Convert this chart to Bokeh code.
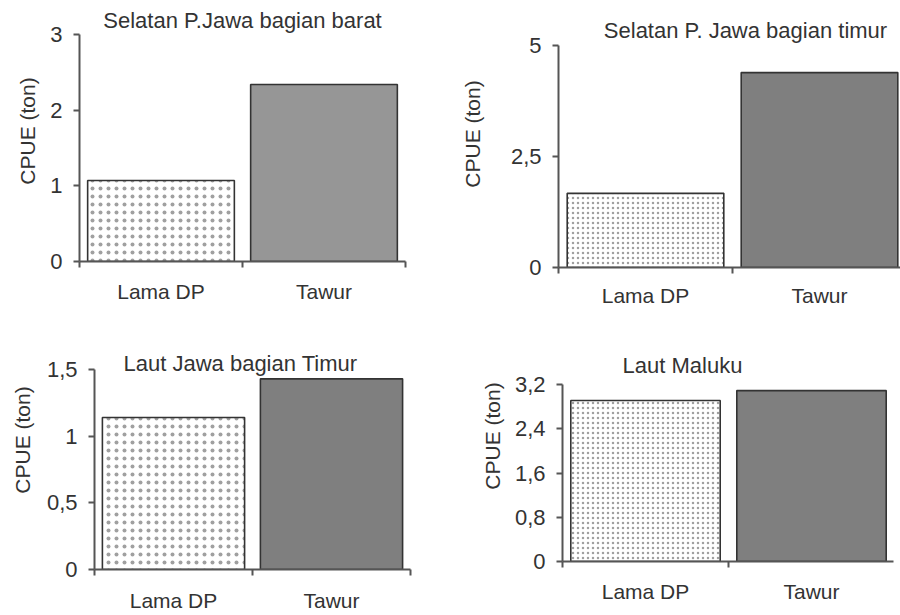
from bokeh.plotting import figure
from bokeh.layouts import column, row
from bokeh.models import Range1d, FixedTicker, CustomJSTickFormatter, Label
from bokeh.embed import file_html
from bokeh.resources import INLINE

# ---------------- data ----------------
categories = ["Lama DP", "Tawur"]
titles = ["Selatan P.Jawa bagian barat", "Selatan P. Jawa bagian timur",
          "Laut Jawa bagian Timur", "Laut Maluku"]
values_barat = [1.07, 2.34]
values_timur = [1.67, 4.39]
values_jawa_timur = [1.14, 1.43]
values_maluku = [2.91, 3.09]
yticks_barat = [0, 1, 2, 3]
yticks_timur = [0, 2.5, 5]
yticks_jawa_timur = [0, 0.5, 1, 1.5]
yticks_maluku = [0, 0.8, 1.6, 2.4, 3.2]
y_label = "CPUE (ton)"

FONT = "Liberation Sans"
TXT = "#333333"
AX = "#555555"


def panel(values, yticks, title, lay):
    """lay: page-pixel layout of the panel (positions only, no data)."""
    col_left, row_top, W, H = lay["box"]
    ax_x, ax_top, ax_bot, right, cat_px = lay["frame"]
    ymax = yticks[-1]
    frame_right = min(right, col_left + W)
    x_end = (frame_right - ax_x) / cat_px
    y_end = ymax * (ax_bot - row_top) / (ax_bot - ax_top)

    p = figure(width=W, height=H, title=None, toolbar_location=None,
               output_backend="svg",
               x_range=Range1d(0, x_end), y_range=Range1d(0, y_end),
               min_border_left=ax_x - col_left,
               min_border_right=col_left + W - frame_right,
               min_border_top=0, min_border_bottom=row_top + H - ax_bot)
    p.outline_line_color = None
    p.xgrid.visible = False
    p.ygrid.visible = False
    p.background_fill_color = "white"
    p.border_fill_color = "white"

    xs = [i + 0.5 for i in range(len(categories))]
    # Lama DP (dotted)
    p.vbar(x=xs[:1], top=values[:1], width=0.9, bottom=0,
           fill_color="white", line_color="#333333", line_width=1.6,
           hatch_pattern="dot", hatch_scale=lay["hatch"][0], hatch_weight=1.4,
           hatch_color=lay["hatch"][1])
    # Tawur (solid gray)
    p.vbar(x=xs[1:], top=values[1:], width=0.9, bottom=0,
           fill_color=lay["tawur"], line_color="#333333", line_width=1.6)

    # y axis (drawn only from 0 to the top tick)
    ya = p.yaxis[0]
    ya.bounds = (0, ymax)
    ya.ticker = FixedTicker(ticks=yticks, minor_ticks=[])
    ya.formatter = CustomJSTickFormatter(code="return tick.toString().replace('.', ',');")
    ya.axis_line_color = AX
    ya.axis_line_width = 2
    ya.major_tick_line_color = AX
    ya.major_tick_line_width = 2
    ya.major_tick_out = 6
    ya.major_tick_in = 0
    ya.minor_tick_line_color = None
    ya.major_label_standoff = 11
    ya.major_label_text_font = FONT
    ya.major_label_text_font_size = "22px"
    ya.major_label_text_color = TXT
    ya.axis_label = y_label
    ya.axis_label_text_font = FONT
    ya.axis_label_text_font_size = "21px"
    ya.axis_label_text_font_style = "normal"
    ya.axis_label_text_color = TXT
    ya.axis_label_standoff = lay["ylab"]

    # x axis: ticks between categories, labels at centres
    xa = p.xaxis[0]
    xa.ticker = FixedTicker(ticks=xs, minor_ticks=list(range(len(categories) + 1)))
    xa.formatter = CustomJSTickFormatter(args=dict(cats=categories),
                                         code="return cats[Math.floor(tick)];")
    xa.axis_label = None
    xa.axis_line_color = AX
    xa.axis_line_width = 2
    xa.major_tick_line_color = None
    xa.minor_tick_line_color = AX
    xa.minor_tick_line_width = 2
    xa.minor_tick_out = 6
    xa.minor_tick_in = 0
    xa.major_label_standoff = lay["xlab"]
    xa.major_label_text_font = FONT
    xa.major_label_text_font_size = "21px"
    xa.major_label_text_color = TXT

    tx, ty = lay["title"]
    p.add_layout(Label(x=(tx - ax_x) / cat_px,
                       y=ymax * (ax_bot - ty) / (ax_bot - ax_top),
                       text=title, text_font=FONT, text_font_size="22px",
                       text_color=TXT, text_align="center", text_baseline="middle"))
    return p


lay1 = dict(box=(0, 0, 450, 310), frame=(79, 34, 261, 405, 163),
            hatch=(8, "#a0a0a0"), tawur="#969696", ylab=8, xlab=12, title=(242, 20))
lay2 = dict(box=(450, 0, 450, 310), frame=(558, 45, 267, 906, 174),
            hatch=(5, "#a0a0a0"), tawur="#7f7f7f", ylab=24, xlab=10, title=(745, 30))
lay3 = dict(box=(0, 310, 450, 305), frame=(94, 369, 569, 410, 158),
            hatch=(8, "#a0a0a0"), tawur="#7f7f7f", ylab=10, xlab=13, title=(240, 363))
lay4 = dict(box=(450, 310, 450, 305), frame=(562, 384, 561, 893, 166),
            hatch=(5, "#a0a0a0"), tawur="#7f7f7f", ylab=8, xlab=12, title=(682, 365))

p1 = panel(values_barat, yticks_barat, titles[0], lay1)
p2 = panel(values_timur, yticks_timur, titles[1], lay2)
p3 = panel(values_jawa_timur, yticks_jawa_timur, titles[2], lay3)
p4 = panel(values_maluku, yticks_maluku, titles[3], lay4)

# each plot wrapped on its own so that plot frames in a row are not aligned
page = column(row(column(p1), column(p2), spacing=0),
              row(column(p3), column(p4), spacing=0), spacing=0)

open("out.html", "w").write(file_html(page, INLINE))
